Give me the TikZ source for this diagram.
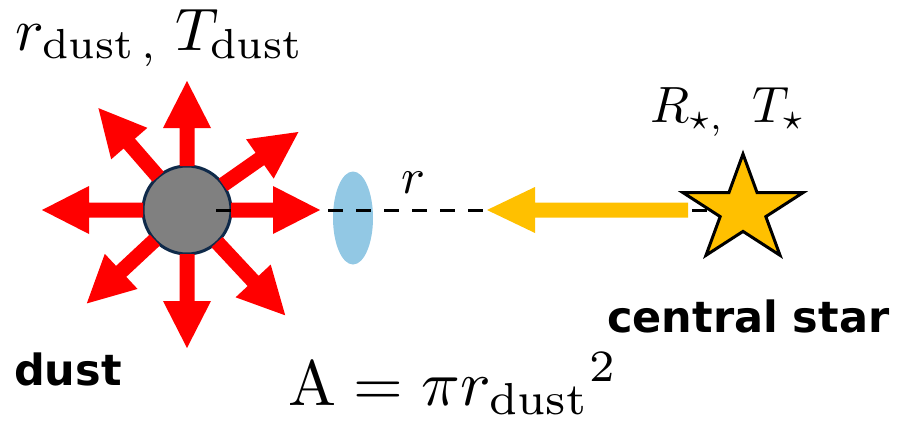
\documentclass[tikz,border=0pt]{standalone}
\usepackage{fontspec}
\newfontfamily\labelfont{DejaVu Sans}
\usetikzlibrary{shapes.geometric}
\definecolor{starfill}{HTML}{FFC000}
\definecolor{lensblue}{HTML}{92C8E4}
\definecolor{dustgray}{HTML}{808080}
\definecolor{dustedge}{HTML}{0F2A4A}
\tikzset{
  fatred/.style={fill=red, draw=none},
  fatyellow/.style={fill=starfill, draw=none},
  mathlabel/.style={inner sep=0pt, anchor=base west},
  boldlabel/.style={inner sep=0pt, anchor=base west, font=\labelfont\bfseries\fontsize{43}{50}\selectfont},
}
\begin{document}
\begin{tikzpicture}[x=1pt, y=-1pt]
\useasboundingbox (0,0) rectangle (902,423);
% dust grain
\node[circle, fill=dustgray, draw=dustedge, line width=3pt, minimum size=88pt, inner sep=0pt] (dust) at (187,210) {};
% lens (cross-section)
\node[ellipse, fill=lensblue, draw=none, minimum width=40pt, minimum height=93pt, inner sep=0pt] (lens) at (353,218) {};
% star centre and line start
\coordinate (starc) at (743,210);
\coordinate (ls) at (216,210);
% dashed distance line
\draw[line width=3pt, dash pattern=on 15pt off 13pt] (ls) -- (starc);
% red radiation arrows
\foreach \a/\L in {0/133, 90/129, 131/135, 35/136, 180/145, 223/137, 270/138, 313/144}{
  \begin{scope}[shift={(dust.center)}, rotate=\a, x=1pt, y=1pt]
    \fill[fatred] (44,-7.5) -- (\L-47,-7.5) -- (\L-47,-24) -- (\L,0) -- (\L-47,24) -- (\L-47,7.5) -- (44,7.5) -- cycle;
  \end{scope}
}
% yellow arrow from star
\coordinate (ytip) at (487,210);
\begin{scope}[shift={(ytip)}, x=1pt, y=1pt]
  \fill[fatyellow] (0,0) -- (48,23) -- (48,7.5) -- (201,7.5) -- (201,-7.5) -- (48,-7.5) -- (48,-23) -- cycle;
\end{scope}
% star shape
\begin{scope}[shift={(starc)}, x=1pt, y=1pt]
  \draw[fill=starfill, line width=3pt, line join=miter]
    \foreach \k in {0,...,4}{
      \ifnum\k=0 (90+72*\k: 63pt and 56pt) \else -- (90+72*\k: 63pt and 56pt) \fi
      -- (126+72*\k: 24pt and 21.4pt)
    } -- cycle;
\end{scope}
% labels
\node[mathlabel] (rdust) at (15,50) {\scalebox{6}{$r_{\mathrm{dust}\,,}$}};
\node[mathlabel] (tdust) at (175,50) {\scalebox{6}{$T_{\mathrm{dust}}$}};
\node[mathlabel] (rstar) at (650,122) {\scalebox{5.1}{$R_{\star,}$}};
\node[mathlabel] (tstar) at (752,122) {\scalebox{5.1}{$T_{\star}$}};
\node[mathlabel] (rlab) at (401,193) {\scalebox{5}{$r$}};
\node[mathlabel] (area) at (288,405) {\scalebox{6.4}{$\mathrm{A}=\pi r_{\mathrm{dust}}{}^{2}$}};
\node[boldlabel] (dusttext) at (14,385) {dust};
\node[boldlabel] (startext) at (607,332) {central star};
\end{tikzpicture}
\end{document}
